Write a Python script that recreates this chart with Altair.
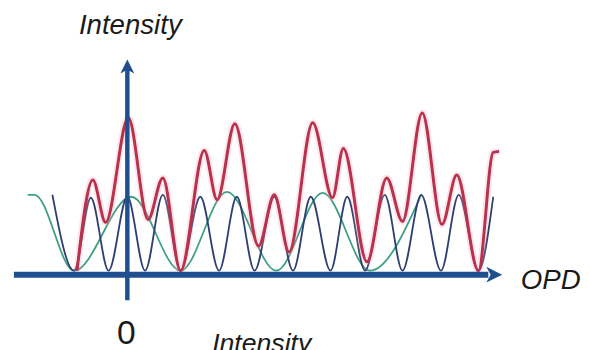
import altair as alt
import pandas as pd

# ---- data (x: OPD offset, y: intensity; both in px-like units) ----
blue_x = [-76, -54, -37, -19, 0, 18, 36, 54, 74, 93, 111, 129, 149, 168, 186, 206, 223, 241, 261, 279, 298, 318, 336, 356, 371]
blue_y = [77, 0, 74, 0, 75, 0, 77, 0, 75, 0, 75, 0, 75, 0, 75, 0, 75, 0, 77, 0, 77, 0, 77, 0, 75]

green_x = [-101, -94, -54, 4, 54, 101, 151, 198, 246, 298]
green_y = [77, 77, 0, 75, 0, 80, 0, 79, 0, 77]

red_x = [-51, -35, -22, 1, 21, 36, 54, 78, 91, 109, 133, 149, 164, 188, 208, 219, 243, 263, 279, 299, 319, 334, 356, 371, 377]
red_y = [0, 92, 49, 155, 52, 94, 0, 122, 72, 149, 25, 77, 19, 150, 74, 124, 9, 94, 50, 160, 47, 97, 0, 120, 121]

# axes (annotation) extents
haxis_x = [-115, 366]
haxis_y = [-4, -4]
vaxis_x = [0, 0]
vaxis_y = [-30, 208]

labels = ["Intensity", "OPD", "0", "Intensity"]
label_x = [3, 399, -1, 86]
label_y = [240, -19, -74, -82]
label_size = [28, 28, 34, 27]
label_align = ["center", "left", "center", "left"]
label_italic = ["italic", "italic", "normal", "italic"]

XS = alt.Scale(domain=[-121, 461])
YS = alt.Scale(domain=[-78, 264])

def xy():
    return dict(x=alt.X("x:Q", scale=XS, axis=None), y=alt.Y("y:Q", scale=YS, axis=None))

green = alt.Chart(pd.DataFrame({"x": green_x, "y": green_y})).mark_line(
    color="#3e9f84", strokeWidth=1.8, interpolate="monotone").encode(**xy())
blue = alt.Chart(pd.DataFrame({"x": blue_x, "y": blue_y})).mark_line(
    color="#2e3f72", strokeWidth=1.8, interpolate="monotone").encode(**xy())
red_df = pd.DataFrame({"x": red_x, "y": red_y})
red_glow = alt.Chart(red_df).mark_line(
    color="#f4a0b0", strokeWidth=7, opacity=0.25, interpolate="monotone").encode(**xy())
red = alt.Chart(red_df).mark_line(
    color="#b8314d", strokeWidth=3, interpolate="monotone").encode(**xy())

haxis = alt.Chart(pd.DataFrame({"x": haxis_x, "y": haxis_y})).mark_line(
    color="#1f4f8f", strokeWidth=6).encode(**xy())
vaxis = alt.Chart(pd.DataFrame({"x": vaxis_x, "y": vaxis_y})).mark_line(
    color="#1f4f8f", strokeWidth=4.5).encode(**xy())

arrow_right = alt.Chart(pd.DataFrame({"x": [372], "y": [-4]})).mark_point(
    shape="M-1,-1L1,0L-1,1L-0.45,0Z", size=260, filled=True, color="#1f4f8f", opacity=1).encode(**xy())
arrow_up = alt.Chart(pd.DataFrame({"x": [0], "y": [207]})).mark_point(
    shape="M-1,1L0,-1L1,1L0,0.45Z", size=200, filled=True, color="#1f4f8f", opacity=1).encode(**xy())

lab_df = pd.DataFrame({"x": label_x, "y": label_y, "t": labels})
texts = []
for i in range(len(labels)):
    texts.append(
        alt.Chart(lab_df.iloc[[i]]).mark_text(
            font="Liberation Sans, Arial, sans-serif", fontSize=label_size[i],
            fontStyle=label_italic[i], align=label_align[i], baseline="alphabetic",
            color="#1a1a1a").encode(text="t:N", **xy())
    )

chart = alt.layer(green, blue, red_glow, red, haxis, vaxis, arrow_right, arrow_up, *texts).properties(
    width=582, height=342, autosize=alt.AutoSizeParams(type="none"), padding=0
).configure_view(stroke=None)

chart.save("out.html", embed_options={"renderer": "svg", "actions": False})
